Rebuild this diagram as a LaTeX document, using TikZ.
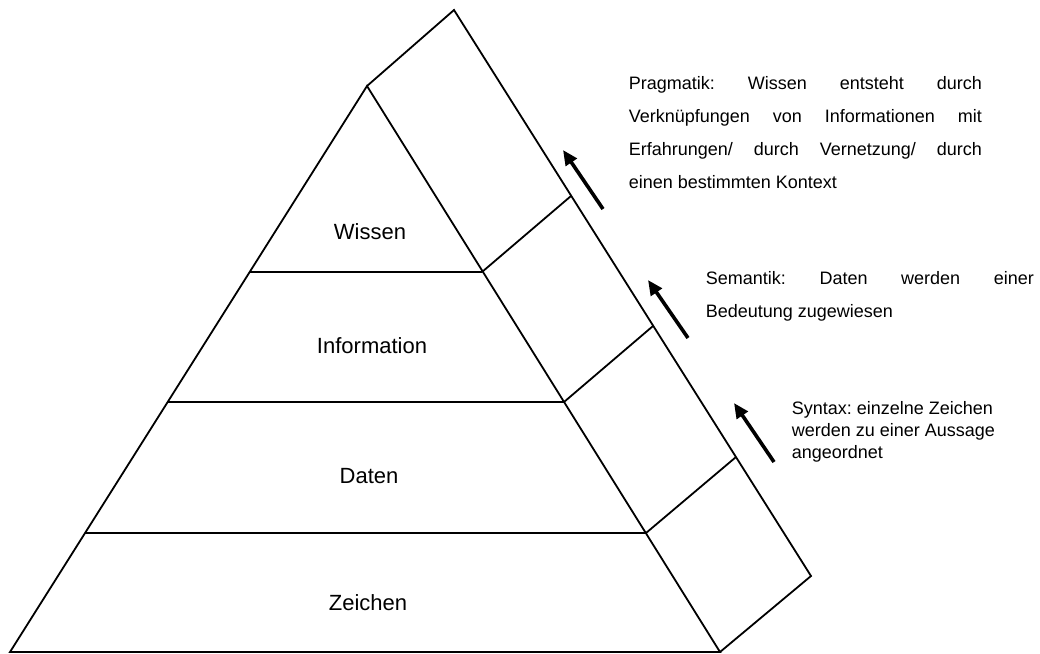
\documentclass[tikz,border=0pt]{standalone}
\usepackage{fontspec}
\setmainfont{Liberation Sans}
\usepackage{tikz}
\usetikzlibrary{arrows.meta}

\newcommand{\jline}[2]{\makebox[#1][s]{#2}}
\frenchspacing

\begin{document}
\begin{tikzpicture}[x=1pt,y=-1pt,line width=1.8pt,
  stufe/.style={font=\fontsize{22}{26}\selectfont},
  notiz/.style={anchor=north west,inner sep=0pt,align=left,font=\fontsize{18}{33}\selectfont},
  pfeil/.style={line width=3.6pt,-{Triangle[length=15pt,width=13pt]}}]
\useasboundingbox (0,0) rectangle (1040,653);

\coordinate (A) at (367,86);
\coordinate (L) at (10,652);
\coordinate (R) at (720,652);
\coordinate (T) at (454,10);
\coordinate (S) at (811,576);

\coordinate (L1) at (250,272);
\coordinate (R1) at (482,272);
\coordinate (L2) at (168,402);
\coordinate (R2) at (564,402);
\coordinate (L3) at (85,533);
\coordinate (R3) at (646,533);
\coordinate (T1) at (571,196);
\coordinate (T2) at (653,326);
\coordinate (T3) at (736,457);

\node[stufe] (W) at (370,232) {Wissen};
\node[stufe] (I) at (372,346) {Information};
\node[stufe] (D) at (369,476) {Daten};
\node[stufe] (Z) at (368,603) {Zeichen};

\node[notiz] (P) at (628,76) {\jline{353pt}{Pragmatik: Wissen entsteht durch}\\
  \jline{353pt}{Verknüpfungen von Informationen mit}\\
  \jline{353pt}{Erfahrungen/ durch Vernetzung/ durch}\\
  einen bestimmten Kontext};
\node[notiz] (M) at (705,271) {\jline{328pt}{Semantik: Daten werden einer}\\
  Bedeutung zugewiesen};
\node[notiz, font=\fontsize{18}{22}\selectfont] (Y) at (791,401) {Syntax: einzelne Zeichen\\
  werden zu einer Aussage\\ angeordnet};

\coordinate (P1) at (603,209);
\coordinate (P2) at (563,150);
\coordinate (M1) at (688,338);
\coordinate (M2) at (648,280);
\coordinate (Y1) at (774,462);
\coordinate (Y2) at (734,403);

\draw (L) -- (A) -- (R) -- cycle;
\draw (L1) -- (R1);
\draw (L2) -- (R2);
\draw (L3) -- (R3);
\draw (A) -- (T) -- (S) -- (R);
\draw (R1) -- (T1);
\draw (R2) -- (T2);
\draw (R3) -- (T3);

\draw[pfeil] (P1) -- (P2);
\draw[pfeil] (M1) -- (M2);
\draw[pfeil] (Y1) -- (Y2);
\end{tikzpicture}
\end{document}
